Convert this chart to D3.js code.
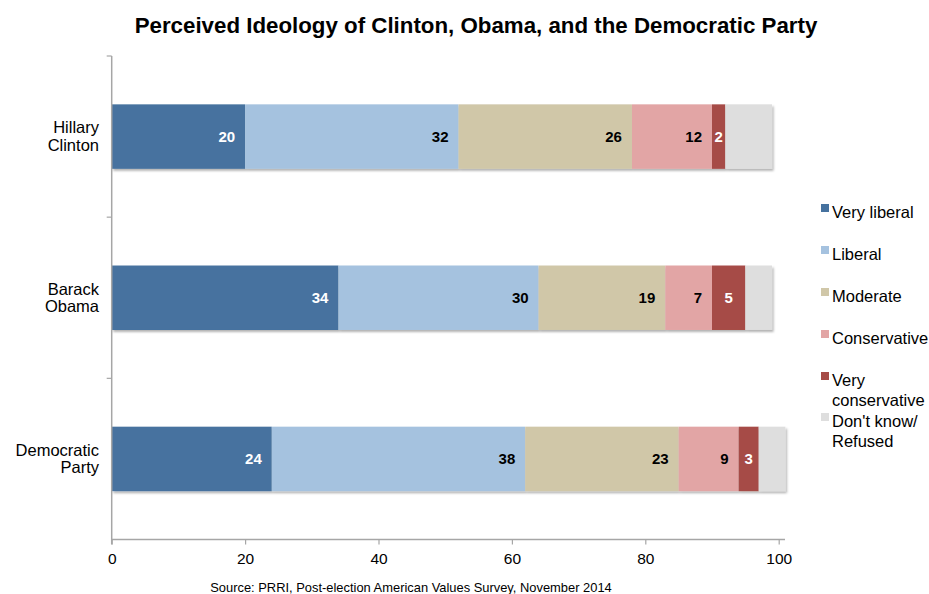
<!DOCTYPE html>
<html>
<head>
<meta charset="utf-8">
<script src="https://cdn.jsdelivr.net/npm/d3@7"></script>
<style>
  body { margin: 0; background: #fff; }
  svg { display: block; font-family: "Liberation Sans", Arial, Helvetica, sans-serif; }
</style>
</head>
<body>
<svg id="chart" width="929" height="594"></svg>
<script>
// Survey respondents' view of each figure's ideology (percent)
const categories = ["Hillary Clinton", "Barack Obama", "Democratic Party"];
const categoryLines = [["Hillary", "Clinton"], ["Barack", "Obama"], ["Democratic", "Party"]];
const seriesNames = ["Very liberal", "Liberal", "Moderate", "Conservative", "Very conservative", "Don't know/ Refused"];
const legendLines = [["Very liberal"], ["Liberal"], ["Moderate"], ["Conservative"], ["Very", "conservative"], ["Don't know/", "Refused"]];
const veryLiberal = [20, 34, 24];
const liberal = [32, 30, 38];
const moderate = [26, 19, 23];
const conservative = [12, 7, 9];
const veryConservative = [2, 5, 3];
const dontKnow = [7, 4, 4];
const xTicks = [0, 20, 40, 60, 80, 100];
const colors = ["#46729f", "#a5c2df", "#d0c7a8", "#e2a5a5", "#a64b46", "#dedede"];
const labelColors = ["#fff", "#000", "#000", "#000", "#fff", null];

const seriesValues = [veryLiberal, liberal, moderate, conservative, veryConservative, dontKnow];
const rows = categories.map((c, i) => {
  const r = { category: c };
  seriesNames.forEach((s, j) => r[s] = seriesValues[j][i]);
  return r;
});

const svg = d3.select("#chart");
const plot = { left: 111.7, right: 778.7, top: 56, bottom: 539.5 };

const x = d3.scaleLinear().domain([0, 100]).range([plot.left, plot.right]);
const y = d3.scaleBand().domain(categories).range([plot.top, plot.bottom])
  .paddingInner(0.6).paddingOuter(0.3);

const stacked = d3.stack().keys(seriesNames)(rows);

// soft shadow under each bar
const defs = svg.append("defs");
const f = defs.append("filter").attr("id", "shadow")
  .attr("x", "-5%").attr("y", "-10%").attr("width", "110%").attr("height", "130%");
f.append("feDropShadow").attr("dx", 1.5).attr("dy", 2).attr("stdDeviation", 1.2)
  .attr("flood-color", "#000").attr("flood-opacity", 0.3);

// Title
svg.append("text")
  .attr("x", 476).attr("y", 33)
  .attr("text-anchor", "middle")
  .style("font-weight", "bold").style("font-size", "22.3px")
  .text("Perceived Ideology of Clinton, Obama, and the Democratic Party");

// Bars
const barGroup = svg.append("g");
categories.forEach((c, i) => {
  const g = barGroup.append("g").attr("filter", "url(#shadow)");
  stacked.forEach((layer, j) => {
    const d = layer[i];
    g.append("rect")
      .attr("x", x(d[0]))
      .attr("y", y(c))
      .attr("width", x(d[1]) - x(d[0]))
      .attr("height", y.bandwidth())
      .attr("fill", colors[j]);
  });
});

// Value labels
stacked.forEach((layer, j) => {
  if (!labelColors[j]) return;
  layer.forEach((d, i) => {
    const centered = j === 4;
    svg.append("text")
      .attr("x", centered ? (x(d[0]) + x(d[1])) / 2 : x(d[1]) - 10)
      .attr("y", y(categories[i]) + y.bandwidth() / 2 + 5.5)
      .attr("text-anchor", centered ? "middle" : "end")
      .style("font-weight", "bold").style("font-size", "15px")
      .attr("fill", labelColors[j])
      .text(d[1] - d[0]);
  });
});

// Axes
const axisColor = "#a6a6a6";
const xAxis = svg.append("g")
  .attr("transform", `translate(0,${plot.bottom})`)
  .call(d3.axisBottom(x).tickValues(xTicks).tickSize(5).tickSizeOuter(0).tickPadding(8));
xAxis.select(".domain").remove();
xAxis.append("line")
  .attr("x1", plot.left).attr("x2", 785).attr("y1", 0).attr("y2", 0)
  .attr("stroke", axisColor).attr("stroke-width", 1.5);
xAxis.selectAll(".tick line").attr("stroke", axisColor).attr("stroke-width", 1.2);
xAxis.selectAll(".tick text")
  .style("font-size", "15.5px")
  .attr("fill", "#000");

// category axis: line with ticks at band boundaries
const yAxis = svg.append("g");
yAxis.append("line")
  .attr("x1", plot.left).attr("x2", plot.left)
  .attr("y1", plot.top).attr("y2", plot.bottom + 5)
  .attr("stroke", axisColor).attr("stroke-width", 1.5);
const step = y.step();
const boundaries = [plot.top].concat(
  categories.slice(0, -1).map(c => y(c) + y.bandwidth() + y.paddingInner() * step / 2));
boundaries.forEach(b => {
  yAxis.append("line")
    .attr("x1", plot.left - 5).attr("x2", plot.left)
    .attr("y1", b).attr("y2", b)
    .attr("stroke", axisColor).attr("stroke-width", 1.2);
});

// Category labels
categories.forEach((c, i) => {
  const cy = y(c) + y.bandwidth() / 2;
  const lines = categoryLines[i];
  const t = svg.append("text")
    .attr("text-anchor", "end")
    .style("font-size", "16.5px").attr("fill", "#000");
  lines.forEach((ln, k) => {
    t.append("tspan").attr("x", 99)
      .attr("y", cy + 5.5 + (k - (lines.length - 1) / 2) * 17.5)
      .text(ln);
  });
});

// Legend
const legendY = [212, 254, 296, 338, 380, 421];
seriesNames.forEach((s, j) => {
  const g = svg.append("g");
  g.append("rect")
    .attr("x", 821).attr("y", legendY[j] - 8)
    .attr("width", 8).attr("height", 8)
    .attr("fill", colors[j]);
  const t = g.append("text").style("font-size", "16.5px").attr("fill", "#000");
  legendLines[j].forEach((ln, k) => {
    t.append("tspan").attr("x", 832).attr("y", legendY[j] + 5.5 + k * 20).text(ln);
  });
});

// Source note
svg.append("text")
  .attr("x", 411).attr("y", 592)
  .attr("text-anchor", "middle")
  .style("font-size", "12.9px").attr("fill", "#000")
  .text("Source: PRRI, Post-election American Values Survey, November 2014");
</script>
</body>
</html>
